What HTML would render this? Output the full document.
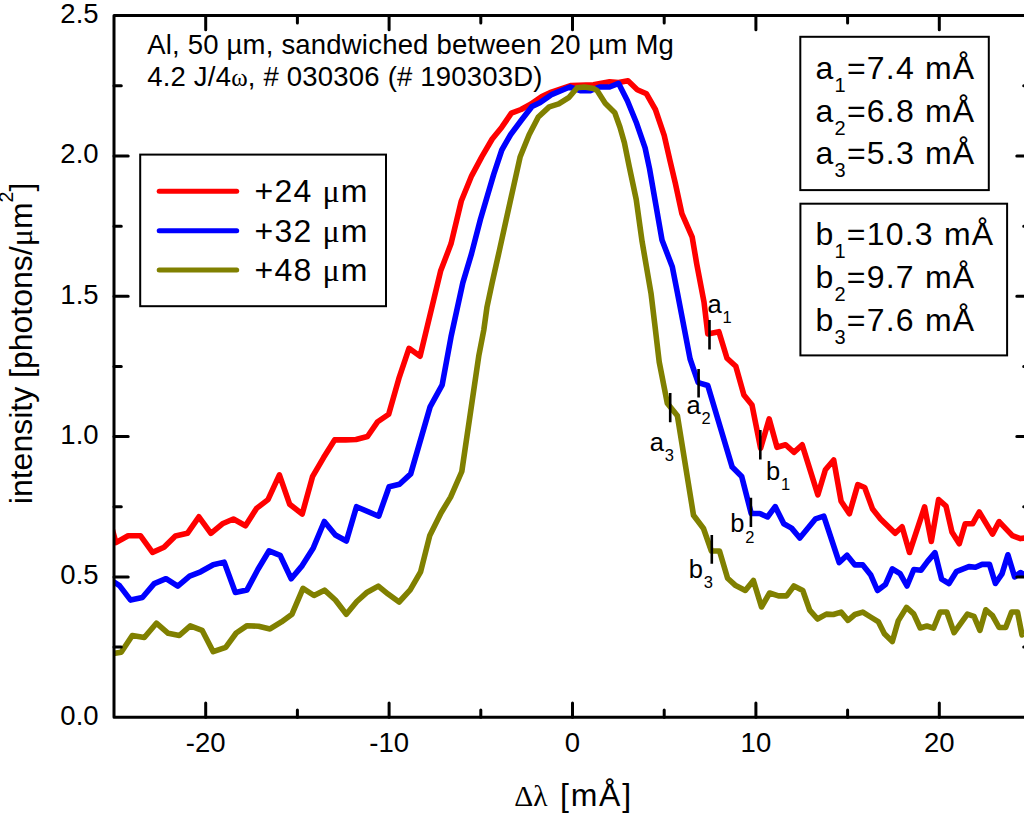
<!DOCTYPE html>
<html><head><meta charset="utf-8"><style>
html,body{margin:0;padding:0;background:#fff;width:1024px;height:814px;overflow:hidden}
svg{display:block}
text{font-family:"Liberation Sans",sans-serif;fill:#000}
</style></head><body>
<svg width="1024" height="814" viewBox="0 0 1024 814">
<defs><clipPath id="c"><rect x="114" y="15.6" width="917" height="701.6"/></clipPath></defs>
<g clip-path="url(#c)" fill="none" stroke-width="5.6" stroke-linejoin="round">
<polyline stroke="#f00" points="104.3,500.0 115.9,542.6 128.1,535.7 140.4,535.7 152.5,552.4 164.0,547.3 175.4,535.9 187.4,533.3 198.9,516.8 210.9,533.3 222.4,523.8 233.4,519.0 245.5,525.8 256.5,508.4 268.0,499.6 279.4,474.8 289.7,504.3 302.2,514.0 312.5,476.7 323.6,457.6 334.6,439.9 345.7,439.9 356.0,439.5 367.5,436.5 377.7,421.7 388.7,414.3 398.9,378.4 409.0,348.3 420.1,356.2 440.6,271.1 451.0,243.8 461.3,201.0 471.6,175.8 481.9,156.7 492.2,139.0 501.8,127.2 511.4,113.2 521.0,109.5 530.6,104.3 541.8,96.5 551.4,92.1 571.3,85.5 593.4,84.7 609.6,81.8 618.5,82.5 628.0,80.8 637.3,89.7 646.5,93.8 655.4,109.5 664.2,135.3 670.1,161.1 675.3,183.2 681.9,213.6 692.2,237.2 696.7,263.7 704.0,302.0 707.8,333.9 718.9,331.7 727.0,358.2 735.8,366.3 743.9,395.1 752.0,405.0 760.6,448.2 769.2,418.9 777.0,447.3 785.6,444.7 793.9,452.3 802.2,444.8 817.9,494.8 825.4,469.8 833.7,460.0 841.1,501.3 849.4,513.7 857.8,484.6 864.7,487.5 872.6,509.1 880.5,519.0 895.2,533.3 902.1,526.8 909.5,552.5 924.6,506.9 931.3,541.5 938.6,499.5 946.0,506.1 951.9,531.9 959.3,543.7 965.2,523.8 972.6,523.8 979.2,512.0 992.5,534.1 999.1,521.6 1012.4,535.6 1020.5,538.6 1031.0,537.0"/>
<polyline stroke="#00f" points="107.9,578.0 119.5,585.6 130.6,600.1 142.4,597.5 154.2,583.6 166.0,578.7 177.8,586.1 189.6,576.2 200.6,571.8 213.2,564.7 224.2,562.1 235.3,592.4 247.0,589.9 258.0,569.3 269.1,550.8 280.1,555.3 291.2,578.8 302.2,565.6 313.3,547.9 324.3,521.5 335.4,535.0 346.4,541.0 356.5,506.7 378.7,516.2 389.1,486.7 399.5,484.3 410.7,473.9 430.1,406.9 442.2,384.8 451.0,336.9 462.8,282.9 471.6,253.4 480.4,219.5 493.7,174.4 501.8,150.0 510.7,134.5 521.7,119.8 532.0,106.5 540.3,102.4 552.1,94.3 569.8,87.0 580.1,90.6 590.4,90.6 599.3,87.0 609.6,87.0 618.5,83.3 627.4,100.8 636.2,122.2 645.1,147.8 649.5,168.5 662.0,240.1 672.3,266.7 677.5,293.2 690.1,359.0 698.2,382.6 707.8,385.5 732.2,467.1 741.7,476.5 751.2,513.5 759.8,513.5 767.5,517.0 775.2,506.6 783.8,523.8 791.6,528.1 799.8,538.0 815.6,518.8 823.8,516.2 839.2,562.5 847.0,555.2 854.9,564.9 862.8,564.9 870.6,574.7 877.5,590.5 885.4,584.6 892.3,568.8 900.1,573.7 907.0,586.0 913.8,569.5 921.0,570.2 927.6,561.4 935.0,552.6 941.6,579.1 949.0,583.5 956.3,571.7 968.9,566.6 975.5,567.3 982.1,564.4 989.5,564.4 995.4,583.5 1002.0,573.9 1007.9,554.8 1014.6,576.9 1020.5,572.5 1031.0,578.0"/>
<polyline stroke="#808000" points="109.7,654.0 121.2,652.2 132.3,635.5 144.3,637.5 156.4,623.2 168.2,633.3 179.3,635.5 190.3,625.9 202.1,630.3 213.2,651.7 225.7,647.3 236.2,633.0 247.1,625.7 258.6,626.3 270.0,628.9 281.4,621.9 292.0,614.2 303.0,588.3 314.0,595.5 324.5,590.2 335.4,600.0 346.3,614.2 356.8,601.5 367.2,592.2 378.3,586.1 388.1,594.1 399.1,602.0 410.2,589.8 420.6,571.9 429.8,535.4 441.0,513.0 450.6,497.1 461.8,471.5 478.9,355.2 483.8,330.0 487.0,307.0 492.1,283.0 499.5,250.0 506.8,216.8 513.0,189.0 520.2,156.7 529.1,134.7 538.3,117.0 549.2,106.9 558.7,103.9 569.1,97.3 577.2,87.7 584.5,87.0 593.4,88.4 597.1,90.6 605.2,103.2 614.8,112.8 619.9,127.0 624.4,142.8 629.2,166.4 636.2,199.4 642.1,241.6 651.0,293.2 654.7,323.6 659.2,361.9 667.3,403.2 677.4,415.8 693.5,515.2 703.5,528.5 711.4,551.0 719.5,551.0 727.6,578.2 735.7,585.6 745.3,590.5 753.4,580.5 761.5,607.0 769.6,593.0 778.5,595.9 786.6,595.9 793.9,586.0 802.8,590.5 809.7,610.1 817.5,619.0 826.4,614.1 833.3,614.5 841.1,612.1 848.0,620.4 854.9,614.5 862.8,612.1 870.6,617.0 878.5,621.9 884.4,633.7 892.3,641.6 898.2,620.9 906.5,607.4 913.7,613.8 920.2,628.0 926.9,626.0 933.5,628.2 940.1,612.0 946.8,612.0 954.1,632.7 967.4,614.2 974.0,616.4 979.9,630.4 985.8,609.8 992.5,615.7 999.1,627.5 1005.7,627.5 1011.6,612.0 1017.5,612.0 1022.0,634.9 1031.0,630.0"/>
</g>
<g fill="none" stroke="#000" stroke-width="3" stroke-linecap="round">
<path d="M205.70,717.2V703.00M205.70,15.6V29.80M297.40,717.2V709.90M297.40,15.6V22.90M389.10,717.2V703.00M389.10,15.6V29.80M480.80,717.2V709.90M480.80,15.6V22.90M572.50,717.2V703.00M572.50,15.6V29.80M664.20,717.2V709.90M664.20,15.6V22.90M755.90,717.2V703.00M755.90,15.6V29.80M847.60,717.2V709.90M847.60,15.6V22.90M939.30,717.2V703.00M939.30,15.6V29.80M114,647.05H121.30M1031,647.05H1023.70M114,576.90H128.20M1031,576.90H1016.80M114,506.75H121.30M1031,506.75H1023.70M114,436.60H128.20M1031,436.60H1016.80M114,366.45H121.30M1031,366.45H1023.70M114,296.30H128.20M1031,296.30H1016.80M114,226.15H121.30M1031,226.15H1023.70M114,156.00H128.20M1031,156.00H1016.80M114,85.85H121.30M1031,85.85H1023.70"/>
</g>
<rect x="114" y="15.6" width="917" height="701.6" fill="none" stroke="#000" stroke-width="3" stroke-linejoin="round"/>
<g font-size="27.5"><text x="98.6" y="724.6" text-anchor="end">0.0</text><text x="98.6" y="584.3" text-anchor="end">0.5</text><text x="98.6" y="444.0" text-anchor="end">1.0</text><text x="98.6" y="303.7" text-anchor="end">1.5</text><text x="98.6" y="163.4" text-anchor="end">2.0</text><text x="98.6" y="23.1" text-anchor="end">2.5</text><text x="205.7" y="752.2" text-anchor="middle">-20</text><text x="389.1" y="752.2" text-anchor="middle">-10</text><text x="572.5" y="752.2" text-anchor="middle">0</text><text x="755.9" y="752.2" text-anchor="middle">10</text><text x="939.3" y="752.2" text-anchor="middle">20</text></g>
<g font-size="27.5" letter-spacing="0.2">
<text x="147.2" y="54">Al, 50 µm, sandwiched between 20 µm Mg</text>
<text x="147.2" y="86">4.2 J/4<tspan font-family="Liberation Serif" font-size="25">ω</tspan>, # 030306 (# 190303D)</text>
</g>
<rect x="140.2" y="154.6" width="245.8" height="151.6" fill="none" stroke="#000" stroke-width="2"/>
<g stroke-width="5" stroke-linecap="round">
<line x1="159.2" y1="191.2" x2="236.7" y2="191.2" stroke="#f00"/>
<line x1="159.2" y1="230.8" x2="236.7" y2="230.8" stroke="#00f"/>
<line x1="159.2" y1="270.1" x2="236.7" y2="270.1" stroke="#808000"/>
</g>
<g font-size="32" letter-spacing="1.2">
<text x="254.5" y="202.2">+24 <tspan font-family="Liberation Serif">μ</tspan>m</text>
<text x="254.5" y="241.5">+32 <tspan font-family="Liberation Serif">μ</tspan>m</text>
<text x="254.5" y="280.8">+48 <tspan font-family="Liberation Serif">μ</tspan>m</text>
</g>
<rect x="800.3" y="36.8" width="188.5" height="153.3" fill="none" stroke="#000" stroke-width="2"/>
<rect x="800.4" y="203.7" width="206.7" height="151.7" fill="none" stroke="#000" stroke-width="2"/>
<g font-size="32" letter-spacing="1.2"><text x="815.6" y="79">a<tspan font-size="20" dy="13">1</tspan><tspan dy="-13">=7.4 mÅ</tspan></text><text x="815.6" y="121.7">a<tspan font-size="20" dy="13">2</tspan><tspan dy="-13">=6.8 mÅ</tspan></text><text x="815.6" y="164.4">a<tspan font-size="20" dy="13">3</tspan><tspan dy="-13">=5.3 mÅ</tspan></text><text x="815.5" y="245.3">b<tspan font-size="20" dy="13">1</tspan><tspan dy="-13">=10.3 mÅ</tspan></text><text x="815.5" y="288">b<tspan font-size="20" dy="13">2</tspan><tspan dy="-13">=9.7 mÅ</tspan></text><text x="815.5" y="331">b<tspan font-size="20" dy="13">3</tspan><tspan dy="-13">=7.6 mÅ</tspan></text></g>
<g><text x="707.6" y="312.7" font-size="25.5">a<tspan font-size="16.5" dx="0.8" dy="10.3">1</tspan></text><text x="686.6" y="413.5" font-size="25.5">a<tspan font-size="16.5" dx="0.8" dy="10.3">2</tspan></text><text x="649.7" y="450.5" font-size="25.5">a<tspan font-size="16.5" dx="0.8" dy="10.3">3</tspan></text><text x="766.1" y="479.8" font-size="25.5">b<tspan font-size="16.5" dx="0.8" dy="10.3">1</tspan></text><text x="730.3" y="532.3" font-size="25.5">b<tspan font-size="16.5" dx="0.8" dy="10.3">2</tspan></text><text x="688.8" y="578.1" font-size="25.5">b<tspan font-size="16.5" dx="0.8" dy="10.3">3</tspan></text></g>
<path d="M709.5,319.9V349.5M698.6,369V397.5M670.2,392.9V422.3M760.3,430V459.5M750.9,497.8V527M711.8,535V563.8" stroke="#000" stroke-width="2.6" fill="none"/>
<text x="514.2" y="805.9" font-size="32"><tspan font-family="Liberation Serif" font-size="29.5">Δλ</tspan><tspan letter-spacing="1.8" dx="1.8"> [mÅ]</tspan></text>
<text transform="translate(31.9,504.2) rotate(-90)" font-size="32">intensity [photons/<tspan font-family="Liberation Serif">μ</tspan>m<tspan font-size="19.5" dy="-19">2</tspan><tspan dy="19">]</tspan></text>
</svg>
</body></html>
